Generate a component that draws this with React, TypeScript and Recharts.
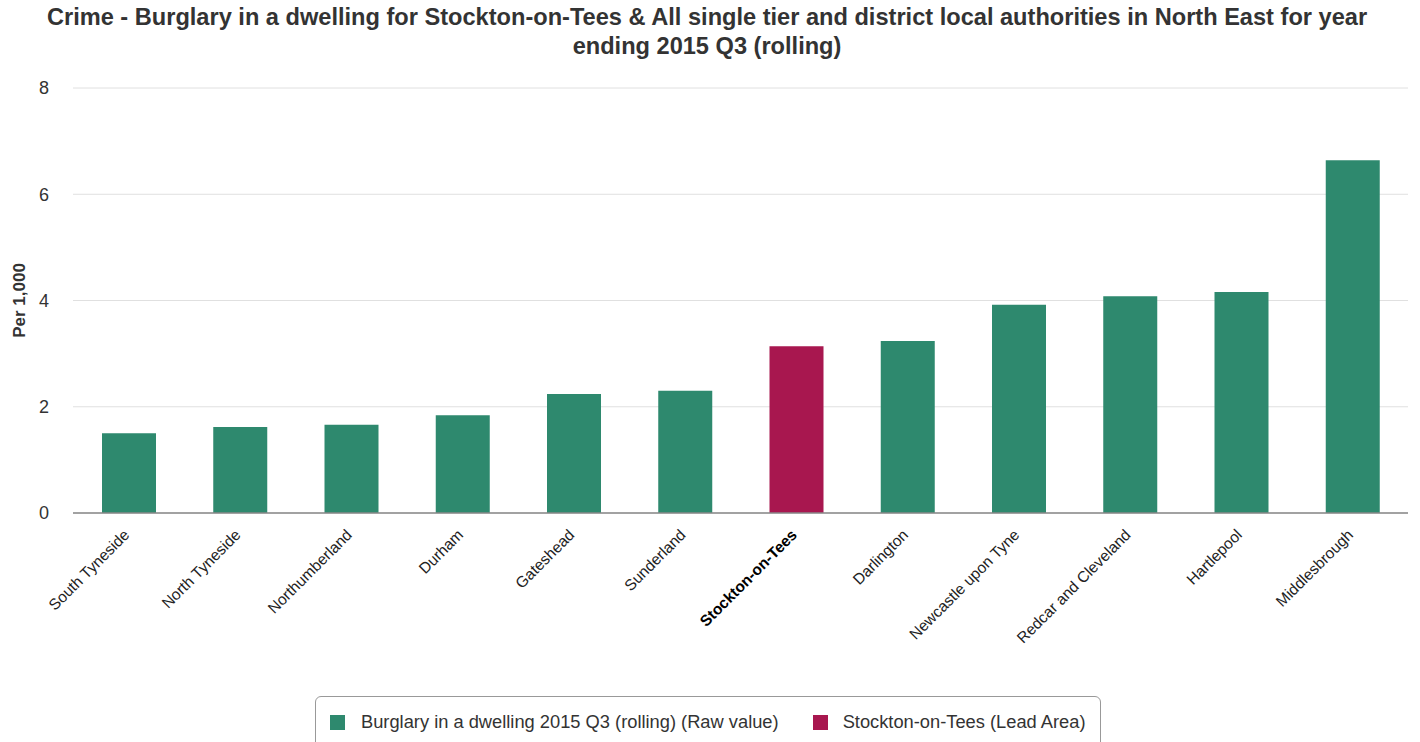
import React from 'react';
import { BarChart, Bar, XAxis, YAxis, CartesianGrid, Cell } from 'recharts';

const areas = [
  'South Tyneside',
  'North Tyneside',
  'Northumberland',
  'Durham',
  'Gateshead',
  'Sunderland',
  'Stockton-on-Tees',
  'Darlington',
  'Newcastle upon Tyne',
  'Redcar and Cleveland',
  'Hartlepool',
  'Middlesbrough',
];
const ratePer1000 = [1.5, 1.62, 1.66, 1.84, 2.24, 2.3, 3.14, 3.24, 3.92, 4.08, 4.16, 6.64];
const leadArea = 'Stockton-on-Tees';
const yTicks = [0, 2, 4, 6, 8];
const boundaryTicks = [0, 1, 2, 3, 4, 5, 6, 7, 8, 9, 10, 11, 12];

const seriesName = 'Burglary in a dwelling 2015 Q3 (rolling) (Raw value)';
const leadName = 'Stockton-on-Tees (Lead Area)';

const GREEN = '#2E896E';
const LEAD = '#A8174F';
const FONT = '"Liberation Sans", Arial, sans-serif';

const data = areas.map((name, i) => ({ name, value: ratePer1000[i] }));

// rotated category labels, lead area in bold
const AreaTick = ({ x, y, payload }: any) => {
  const bold = payload.value === leadArea;
  const ax = x - 2;
  const ay = y + 5;
  return (
    <text
      x={ax}
      y={ay}
      transform={`rotate(-45, ${ax}, ${ay})`}
      textAnchor="end"
      dy="0.35em"
      fontSize={15.5}
      fontFamily={FONT}
      fontWeight={bold ? 'bold' : 'normal'}
      fill={bold ? '#000' : '#222'}
    >
      {payload.value}
    </text>
  );
};

const App: React.FC = () => {
  return (
    <div style={{ position: 'absolute', left: 0, top: 0, width: 1420, height: 742, background: '#fff', fontFamily: FONT, overflow: 'hidden' }}>
      <div
        style={{
          position: 'absolute',
          left: 0,
          top: 3,
          width: 1414,
          textAlign: 'center',
          fontSize: 23.6,
          fontWeight: 'bold',
          color: '#333',
          lineHeight: '29px',
          whiteSpace: 'nowrap',
        }}
      >
        Crime - Burglary in a dwelling for Stockton-on-Tees &amp; All single tier and district local authorities in North East for year
        <br />
        ending 2015 Q3 (rolling)
      </div>

      <BarChart
        width={1420}
        height={742}
        data={data}
        margin={{ top: 88, right: 12, bottom: 49, left: 0 }}
        style={{ position: 'absolute', left: 0, top: 0 }}
      >
        <CartesianGrid vertical={false} stroke="#e0e0e0" />
        <XAxis
          xAxisId="bounds"
          type="number"
          domain={[0, 12]}
          ticks={boundaryTicks}
          height={0}
          tick={false}
          tickSize={10}
          tickLine={{ stroke: '#ccd6eb' }}
          axisLine={false}
        />
        <XAxis
          dataKey="name"
          interval={0}
          height={180}
          tickLine={false}
          tickSize={0}
          tickMargin={14}
          axisLine={{ stroke: '#888', strokeWidth: 1.5 }}
          tick={<AreaTick />}
        />
        <YAxis
          width={73}
          domain={[0, 8]}
          ticks={yTicks}
          axisLine={false}
          tickLine={false}
          tickSize={0}
          tickMargin={24}
          tick={{ fontSize: 18, fill: '#333', fontFamily: FONT }}
          label={{
            value: 'Per 1,000',
            angle: -90,
            position: 'insideLeft',
            offset: 19,
            style: { fontSize: 17, fontWeight: 'bold', fill: '#333', fontFamily: FONT, textAnchor: 'middle' },
          }}
        />
        <Bar dataKey="value" barSize={54} isAnimationActive={false}>
          {data.map((d) => (
            <Cell key={d.name} fill={d.name === leadArea ? LEAD : GREEN} />
          ))}
        </Bar>
      </BarChart>

      <div
        style={{
          position: 'absolute',
          left: 315,
          top: 696,
          width: 786,
          height: 60,
          border: '1px solid #999',
          borderRadius: 6,
          boxSizing: 'border-box',
          fontSize: 18.3,
          color: '#333',
        }}
      >
        <div style={{ position: 'absolute', left: 14, top: 14, display: 'flex', alignItems: 'center', whiteSpace: 'nowrap' }}>
          <span style={{ display: 'inline-block', width: 15, height: 15, background: GREEN, marginRight: 16 }} />
          <span>{seriesName}</span>
          <span style={{ display: 'inline-block', width: 15, height: 15, background: LEAD, marginLeft: 34, marginRight: 15 }} />
          <span>{leadName}</span>
        </div>
      </div>
    </div>
  );
};

export default App;
